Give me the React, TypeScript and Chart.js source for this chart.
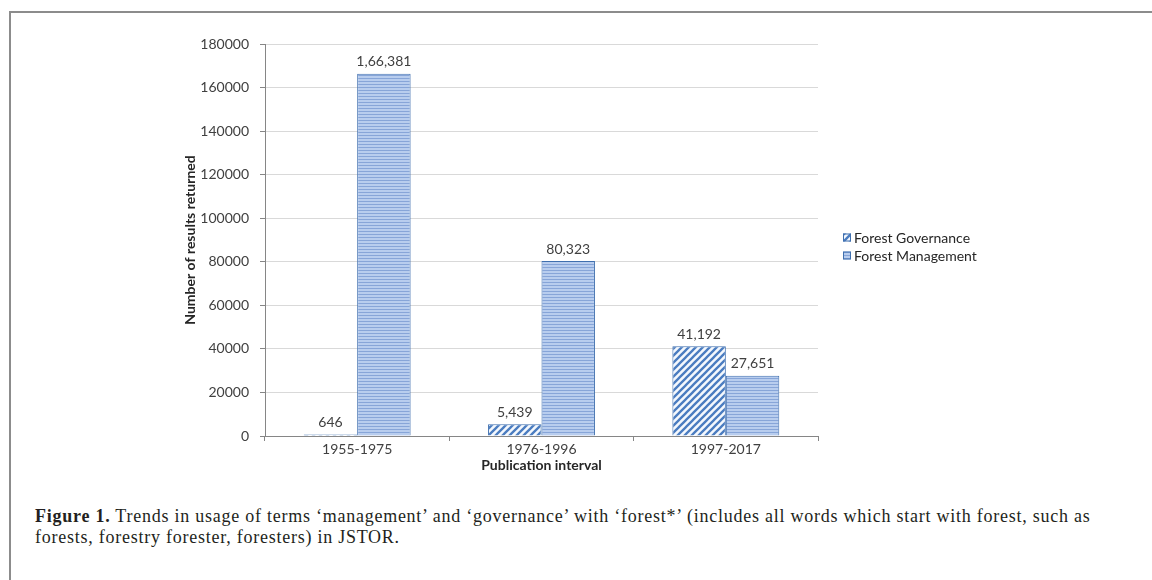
import { useEffect, useRef } from "react";
import { Chart, registerables } from "chart.js";

Chart.register(...registerables);

// Publication intervals on the category axis
const intervals = ["1955-1975", "1976-1996", "1997-2017"];
// JSTOR result counts for each search term
const governanceCounts = [646, 5439, 41192];
const managementCounts = [166381, 80323, 27651];
const seriesNames = ["Forest Governance", "Forest Management"];
// Value axis range and step
const yMin = 0;
const yMax = 180000;
const yStep = 20000;

const yTitle = "Number of results returned";
const xTitle = "Publication interval";

const UI_FONT = "Lato, 'Open Sans', sans-serif";
const BORDER_BLUE = "#3f6fae";

// Indian digit grouping, e.g. 166381 -> 1,66,381
function formatIndian(n: number): string {
  const s = String(Math.round(n));
  if (s.length <= 3) return s;
  const last3 = s.slice(-3);
  let rest = s.slice(0, -3);
  const parts: string[] = [];
  while (rest.length > 2) {
    parts.unshift(rest.slice(-2));
    rest = rest.slice(0, -2);
  }
  if (rest) parts.unshift(rest);
  return parts.join(",") + "," + last3;
}

function diagonalHatch(ctx: CanvasRenderingContext2D): CanvasPattern {
  const s = 7;
  const c = document.createElement("canvas");
  c.width = s;
  c.height = s;
  const g = c.getContext("2d")!;
  g.fillStyle = "#f4f8fd";
  g.fillRect(0, 0, s, s);
  g.strokeStyle = "#4a7cc0";
  g.lineWidth = 2.3;
  g.beginPath();
  g.moveTo(-2, 2);
  g.lineTo(2, -2);
  g.moveTo(0, s);
  g.lineTo(s, 0);
  g.moveTo(s - 2, s + 2);
  g.lineTo(s + 2, s - 2);
  g.stroke();
  return ctx.createPattern(c, "repeat")!;
}

function horizontalStripes(ctx: CanvasRenderingContext2D): CanvasPattern {
  const c = document.createElement("canvas");
  c.width = 4;
  c.height = 3;
  const g = c.getContext("2d")!;
  g.fillStyle = "#b8cdee";
  g.fillRect(0, 0, 4, 3);
  g.fillStyle = "#87a5d8";
  g.fillRect(0, 0, 4, 1);
  return ctx.createPattern(c, "repeat")!;
}

export default function App() {
  const canvasRef = useRef<HTMLCanvasElement | null>(null);

  useEffect(() => {
    const canvas = canvasRef.current;
    if (!canvas) return;
    const ctx = canvas.getContext("2d")!;
    const hatch = diagonalHatch(ctx);
    const stripes = horizontalStripes(ctx);

    const valueLabels = {
      id: "valueLabels",
      afterDatasetsDraw(chart: any) {
        const c = chart.ctx;
        c.save();
        c.font = `14px ${UI_FONT}`;
        c.fillStyle = "#404040";
        c.textAlign = "center";
        c.textBaseline = "bottom";
        chart.data.datasets.forEach((ds: any, di: number) => {
          const meta = chart.getDatasetMeta(di);
          meta.data.forEach((bar: any, i: number) => {
            c.fillText(formatIndian(ds.data[i]), bar.x, bar.y - 5);
          });
        });
        c.restore();
      },
    };

    const sideLegend = {
      id: "sideLegend",
      afterDraw(chart: any) {
        const c = chart.ctx;
        const x = 843;
        const ys = [238, 256];
        c.save();
        c.font = `14px ${UI_FONT}`;
        c.textBaseline = "middle";
        c.textAlign = "left";
        chart.data.datasets.forEach((ds: any, di: number) => {
          const y = ys[di];
          c.fillStyle = ds.backgroundColor;
          c.fillRect(x, y - 4.5, 8, 8);
          c.strokeStyle = BORDER_BLUE;
          c.lineWidth = 1;
          c.strokeRect(x + 0.5, y - 4, 7, 7);
          c.fillStyle = "#262626";
          c.fillText(ds.label, x + 11, y);
        });
        c.restore();
      },
    };

    const chart = new Chart(canvas, {
      type: "bar",
      data: {
        labels: intervals,
        datasets: [
          {
            label: seriesNames[0],
            data: governanceCounts,
            backgroundColor: hatch,
            borderColor: BORDER_BLUE,
            borderWidth: 1,
            barPercentage: 1,
            categoryPercentage: 0.58,
          },
          {
            label: seriesNames[1],
            data: managementCounts,
            backgroundColor: stripes,
            borderColor: BORDER_BLUE,
            borderWidth: 1,
            barPercentage: 1,
            categoryPercentage: 0.58,
          },
        ],
      },
      options: {
        animation: false,
        responsive: false,
        maintainAspectRatio: false,
        layout: { padding: { left: 150, right: 334, top: 44, bottom: 10 } },
        plugins: {
          legend: { display: false },
          tooltip: { enabled: false },
        },
        scales: {
          x: {
            grid: {
              display: true,
              drawOnChartArea: false,
              drawTicks: true,
              tickLength: 5,
              offset: true,
              color: "#868686",
            },
            border: { color: "#868686" },
            ticks: {
              color: "#404040",
              font: { family: UI_FONT, size: 14 },
              padding: 0,
            },
            title: {
              display: true,
              text: xTitle,
              color: "#262626",
              font: { family: UI_FONT, size: 14, weight: "bold" },
              padding: { top: 0, bottom: 6 },
            },
            afterFit: (s: any) => {
              s.height = 44;
            },
          },
          y: {
            min: yMin,
            max: yMax,
            ticks: {
              stepSize: yStep,
              color: "#404040",
              font: { family: UI_FONT, size: 14 },
              padding: 11,
              callback: (v: any) => String(v),
            },
            grid: {
              color: "#d9d9d9",
              tickColor: "#868686",
              tickLength: 5,
            },
            border: { color: "#868686" },
            title: {
              display: true,
              text: yTitle,
              color: "#262626",
              font: { family: UI_FONT, size: 14, weight: "bold" },
              padding: { top: 32, bottom: 0 },
            },
            afterFit: (s: any) => {
              s.width = 115;
            },
          },
        },
      } as any,
      plugins: [valueLabels, sideLegend],
    });

    return () => chart.destroy();
  }, []);

  return (
    <div
      style={{
        position: "fixed",
        left: 0,
        top: 0,
        width: 1152,
        height: 580,
        background: "#ffffff",
        overflow: "hidden",
      }}
    >
      <div
        style={{
          position: "absolute",
          left: 9,
          top: 11,
          width: 1160,
          height: 600,
          borderTop: "2px solid #8c8c8c",
          borderLeft: "2px solid #8c8c8c",
        }}
      />
      <canvas
        ref={canvasRef}
        width={1152}
        height={490}
        style={{ position: "absolute", left: 0, top: 0, width: 1152, height: 490 }}
      />
      <div
        style={{
          position: "absolute",
          left: 35,
          top: 506,
          fontFamily: "'Liberation Serif', 'DejaVu Serif', serif",
          fontSize: 18,
          letterSpacing: "0.75px",
          lineHeight: "21px",
          color: "#231f20",
          whiteSpace: "nowrap",
        }}
      >
        <b>Figure 1.</b> Trends in usage of terms ‘management’ and ‘governance’ with ‘forest*’ (includes all words which start with forest, such as
        <br />
        forests, forestry forester, foresters) in JSTOR.
      </div>
    </div>
  );
}
